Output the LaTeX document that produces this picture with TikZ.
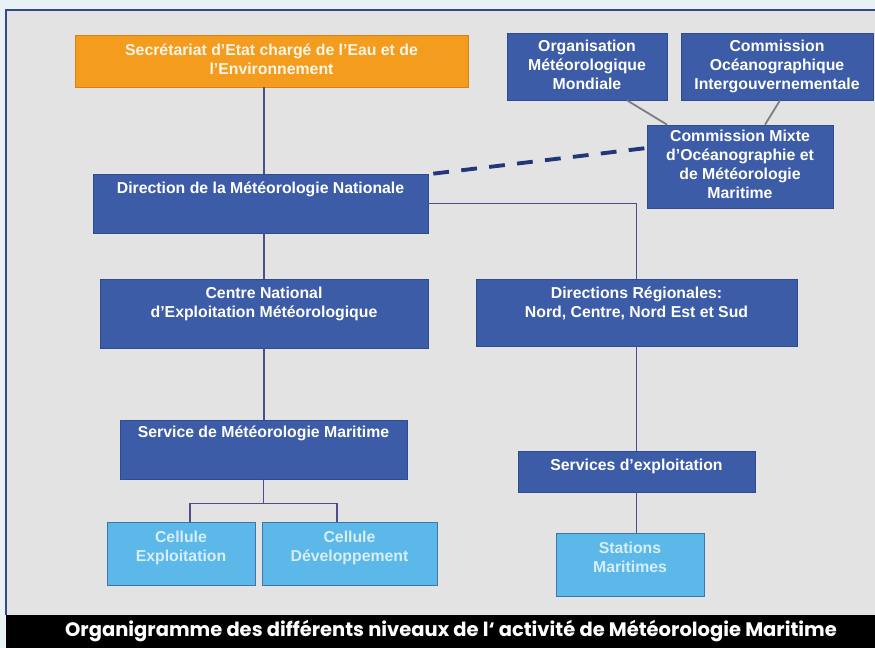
\documentclass[tikz,border=0pt]{standalone}
\usepackage{fontspec}
\setmainfont{Liberation Sans}
\newfontfamily\capfont{Poppins}
\usetikzlibrary{positioning}
\definecolor{mnpale}{HTML}{E8F1F6}
\definecolor{mnpanel}{HTML}{E3E3E4}
\definecolor{mnframe}{HTML}{34498C}
\definecolor{mnblue}{HTML}{3C5CA8}
\definecolor{mnedge}{HTML}{2F4B90}
\definecolor{mnsky}{HTML}{5CB8E8}
\definecolor{mnskyedge}{HTML}{3F74B0}
\definecolor{mnskytext}{HTML}{D6EEFA}
\definecolor{mnorange}{HTML}{F39C1E}
\definecolor{mnline}{HTML}{4C4F8C}
\definecolor{mngrey}{HTML}{7C7C80}
\definecolor{mndash}{HTML}{22377A}
\newcommand{\mlines}[1]{\begin{tabular}[b]{@{}c@{}}#1\end{tabular}}

\begin{document}
\begin{tikzpicture}[x=0.02cm, y=-0.02cm,
    box/.style={draw=mnedge, fill=mnblue, text=white, inner sep=0pt,
        font=\fontsize{9}{10.8}\selectfont\bfseries},
    skybox/.style={box, draw=mnskyedge, fill=mnsky, text=mnskytext},
    orangebox/.style={box, draw=mnorange!85!black, fill=mnorange, text=white!90!mnorange},
    link/.style={draw=mnline, line width=0.8pt},
    greylink/.style={draw=mngrey, line width=1pt}]
    \useasboundingbox (0,0) rectangle (875,648);
    % frame and caption band
    \fill[mnpale] (0,0) rectangle (875,648);
    \fill[mnpanel] (6,10) rectangle (875,615);
    \draw[mnframe, line width=1pt] (6,615) -- (6,10) -- (875,10);
    \fill[black] (6,615) rectangle (875,648);
    \node[text=white, font=\capfont\fontsize{11.1}{13}\selectfont\bfseries] (cap) at (451,631)
        {Organigramme des différents niveaux de l‘ activité de Météorologie Maritime};

    % boxes
    \node[orangebox, minimum width=7.86cm, minimum height=1.04cm] (sec) at (271.5,61)
        {\mlines{Secrétariat d'Etat chargé de l'Eau et de\\ l'Environnement}};
    \node[box, minimum width=3.2cm, minimum height=1.34cm] (omm) at (587,66.5)
        {\mlines{Organisation\\ Météorologique\\ Mondiale}};
    \node[box, minimum width=3.84cm, minimum height=1.34cm] (coi) at (777,66.5)
        {\mlines{Commission\\ Océanographique\\ Intergouvernementale}};
    \node[box, minimum width=3.72cm, minimum height=1.66cm] (cm) at (740,166.5)
        {\mlines{Commission Mixte\\ d'Océanographie et\\ de Météorologie\\ Maritime}};
    \node[box, minimum width=6.7cm, minimum height=1.18cm, text depth=18.5pt] (dmn) at (260.5,203.5)
        {\mlines{Direction de la Météorologie Nationale}};
    \node[box, minimum width=6.56cm, minimum height=1.38cm, text depth=14pt] (cnem) at (264,313.5)
        {\mlines{Centre National\\ d'Exploitation Météorologique}};
    \node[box, minimum width=6.42cm, minimum height=1.34cm, text depth=12.3pt] (dr) at (636.5,312.5)
        {\mlines{Directions Régionales:\\ Nord, Centre, Nord Est et Sud}};
    \node[box, minimum width=5.74cm, minimum height=1.18cm, text depth=21.4pt] (smm) at (263.5,449.5)
        {\mlines{Service de Météorologie Maritime}};
    \node[box, minimum width=4.74cm, minimum height=0.82cm, text depth=8.3pt] (sde) at (636.5,471.5)
        {\mlines{Services d'exploitation}};
    \node[skybox, minimum width=2.96cm, minimum height=1.26cm, text depth=9pt] (ce) at (181,553.5)
        {\mlines{Cellule\\ Exploitation}};
    \node[skybox, minimum width=3.5cm, minimum height=1.26cm, text depth=9pt] (cd) at (349.5,553.5)
        {\mlines{Cellule\\ Développement}};
    \node[skybox, minimum width=2.96cm, minimum height=1.26cm, text depth=9pt] (sm) at (630,564.5)
        {\mlines{Stations\\ Maritimes}};

    % connectors
    \draw[link] (sec.south -| cnem.north) -- (dmn.north -| cnem.north);
    \draw[link] (dmn.south -| cnem.north) -- (cnem.north);
    \draw[link] (cnem.south) -- (cnem.south |- smm.north);
    \coordinate[below=0.48cm of smm.south] (fork);
    \draw[link] (smm.south) -- (fork);
    \draw[link] ([xshift=0.18cm]ce.north) |- (fork) -| ([xshift=-0.25cm]cd.north);
    \draw[link] (dmn.east) -| (dr.north);
    \draw[link] (dr.south) -- (sde.north);
    \draw[link] (sde.south) -- (sde.south |- sm.north);
    \draw[greylink] ([xshift=0.8cm]omm.south) -- ([xshift=-1.46cm]cm.north);
    \draw[greylink] ([xshift=0.06cm]coi.south) -- ([xshift=0.5cm]cm.north);
    \draw[mndash, line width=2.2pt, dash pattern=on 9pt off 7pt]
        ([xshift=0.1cm]dmn.north east) -- ([yshift=0.37cm]cm.west);
\end{tikzpicture}
\end{document}
